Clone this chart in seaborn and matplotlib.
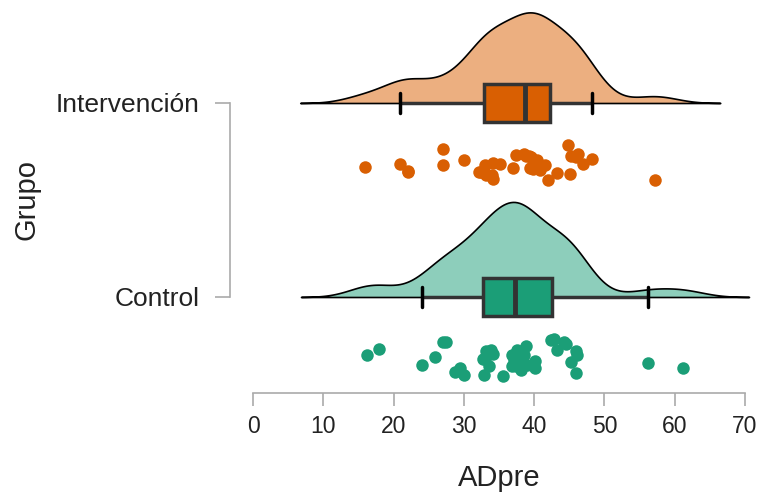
import numpy as np
import pandas as pd
import matplotlib
matplotlib.use("Agg")
import matplotlib.pyplot as plt
import matplotlib.transforms as mtransforms
import seaborn as sns

# ADpre values
interv_vals = [16.0, 20.9, 22.0, 22.0, 27.1, 27.1, 30.0, 32.1, 32.5, 33.0, 33.2, 34.0,
               34.1, 34.2, 35.1, 37.0, 37.4, 38.5, 38.9, 39.2, 39.4, 39.5, 39.9, 40.4,
               40.8, 41.5, 42.0, 43.2, 44.8, 45.1, 45.2, 46.0, 46.3, 47.0, 48.2, 57.2]
control_vals = [16.2, 17.9, 24.0, 25.9, 27.0, 27.5, 28.7, 29.4, 30.0, 32.7, 32.8, 33.0,
                33.2, 33.6, 33.9, 34.1, 35.6, 36.8, 36.9, 37.1, 37.4, 37.5, 37.8,
                38.1, 38.5, 38.8, 39.0, 40.1, 40.1, 42.4, 42.8, 43.2, 44.2, 44.5, 45.2,
                46.0, 46.0, 46.1, 56.2, 61.2]
groups = ["Control", "Intervención"]
x_ticks = [0, 10, 20, 30, 40, 50, 60, 70]

dark_cols = {"Intervención": "#d95f02", "Control": "#1b9e77"}
light_cols = {"Intervención": "#ecaf80", "Control": "#8dcebb"}
data = {"Intervención": interv_vals, "Control": control_vals}
base = {"Control": 0.0, "Intervención": 1.0}


def bw_nrd0(v):
    # R's default bandwidth, returned as a factor of the sd (scipy convention)
    v = np.asarray(v)
    sd = v.std(ddof=1)
    iqr = np.subtract(*np.percentile(v, [75, 25]))
    h = 0.9 * min(sd, iqr / 1.34) * len(v) ** -0.2
    return h / sd


sns.set_style("white")
plt.rcParams["font.family"] = ["Liberation Sans", "DejaVu Sans"]

fig = plt.figure(figsize=(7.68, 5.01), dpi=100)
ax = fig.add_axes([230 / 768, 1 - 393 / 501, 529 / 768, 387 / 501])

# half densities (clouds)
clouds = {}
for g in groups:
    sns.kdeplot(x=data[g], ax=ax, fill=True, bw_method=bw_nrd0(data[g]), cut=3,
                facecolor=light_cols[g], edgecolor="black", linewidth=1.2, zorder=1)
    clouds[g] = ax.collections[-1]

peak = max(c.get_paths()[0].vertices[:, 1].max() for c in clouds.values())
k = 0.49 / peak
for g, c in clouds.items():
    c.set_transform(mtransforms.Affine2D().scale(1, k).translate(0, base[g]) + ax.transData)

# boxes
for g in groups:
    sns.boxplot(x=data[g], y=[base[g]] * len(data[g]), orient="h", native_scale=True,
                width=0.2, color=dark_cols[g], saturation=1, linecolor="#333333",
                linewidth=2.5, showfliers=False, ax=ax,
                medianprops={"linewidth": 3.5}, capprops={"color": "black"},
                whiskerprops={"color": "#333333"})

# rain
np.random.seed(3)
for g in groups:
    sns.stripplot(x=data[g], y=[base[g] - 0.31] * len(data[g]), orient="h",
                  native_scale=True, jitter=0.1, color=dark_cols[g], size=9,
                  linewidth=0, ax=ax, zorder=3)

ax.set_xlim(-23 / 7.0286, 506 / 7.0286)
ax.set_ylim(-96 / 194, 291 / 194)
ax.set_xticks(x_ticks)
ax.set_xticklabels([str(t) for t in x_ticks], fontsize=16.5, color="#222222")
ax.set_yticks([base[g] for g in groups])
ax.set_yticklabels(groups, fontsize=19, color="#222222")

for s in ["top", "right"]:
    ax.spines[s].set_visible(False)
ax.spines["bottom"].set_bounds(0, 70)
ax.spines["left"].set_bounds(0, 1)
for s in ["bottom", "left"]:
    ax.spines[s].set_color("#aaaaaa")
    ax.spines[s].set_linewidth(1.2)
ax.tick_params(axis="x", length=9, width=1.2, color="#aaaaaa", pad=7, bottom=True)
ax.tick_params(axis="y", length=11, width=1.2, color="#aaaaaa", pad=11, left=True)

ax.set_xlabel("ADpre", fontsize=21, color="#222222")
ax.set_ylabel("Grupo", fontsize=21, color="#222222")
ax.xaxis.set_label_coords((499 - 230) / 529, (393 - 464) / 387)
ax.yaxis.set_label_coords((40 - 230) / 529, 0.5)

fig.savefig("out.png", dpi=100)
